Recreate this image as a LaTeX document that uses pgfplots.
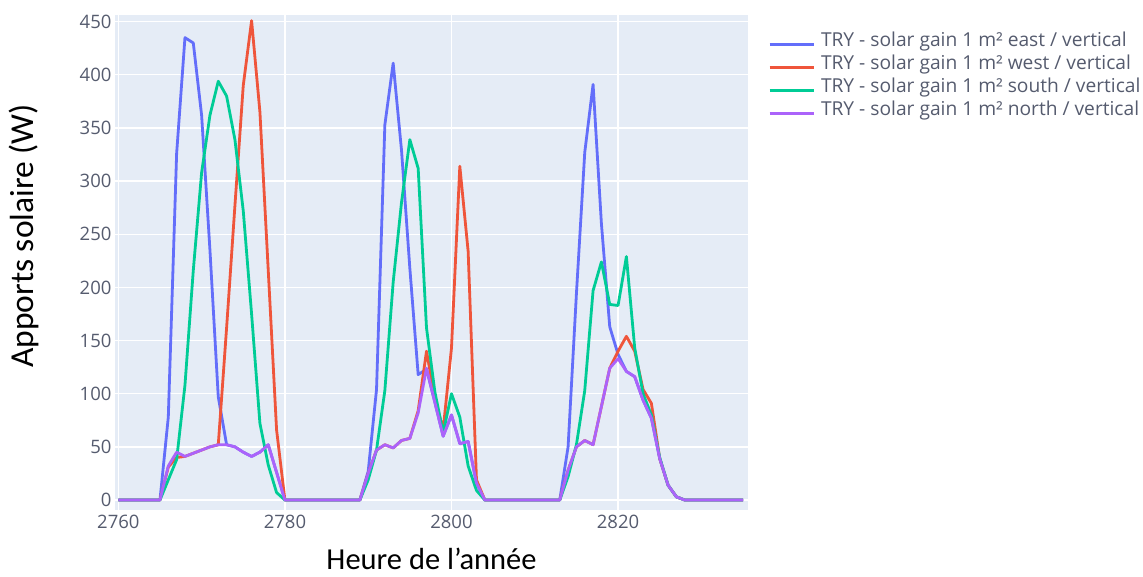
\documentclass[border=0pt]{standalone}
\usepackage{fontspec}
\setmainfont{Open Sans}
\newfontfamily\titlefont{Carlito}
\usepackage{pgfplots}
\usepackage{pgfplotstable}
\pgfplotsset{compat=1.18}

\definecolor{bgplot}{HTML}{E5ECF6}
\definecolor{ceast}{HTML}{636EFA}
\definecolor{cwest}{HTML}{EF553B}
\definecolor{csouth}{HTML}{00CC96}
\definecolor{cnorth}{HTML}{AB63FA}
\definecolor{ticktext}{HTML}{555B6E}

% solar gains, hour of year
\pgfplotstableread{
h    east west south north
2760 0    0    0    0
2761 0    0    0    0
2762 0    0    0    0
2763 0    0    0    0
2764 0    0    0    0
2765 0    0    0    0
2766 78   31   19   32
2767 326  40   38   45
2768 435  41   108  41
2769 430  44   216  44
2770 362  47   308  47
2771 235  50   362  50
2772 97   52   394  52
2773 52   162  380  52
2774 50   277  339  50
2775 45   390  272  45
2776 41   451  175  41
2777 45   365  72   45
2778 52   216  33   52
2779 26   66   7    26
2780 0    0    0    0
2781 0    0    0    0
2782 0    0    0    0
2783 0    0    0    0
2784 0    0    0    0
2785 0    0    0    0
2786 0    0    0    0
2787 0    0    0    0
2788 0    0    0    0
2789 0    0    0    0
2790 27   25   19   25
2791 104  47   47   47
2792 353  52   103  52
2793 411  49   205  49
2794 329  56   280  56
2795 218  58   339  58
2796 118  84   312  82
2797 123  140  162  124
2798 92   96   102  92
2799 60   66   63   60
2800 80   143  100  80
2801 53   314  78   53
2802 55   234  32   55
2803 16   19   9    16
2804 0    0    0    0
2805 0    0    0    0
2806 0    0    0    0
2807 0    0    0    0
2808 0    0    0    0
2809 0    0    0    0
2810 0    0    0    0
2811 0    0    0    0
2812 0    0    0    0
2813 0    0    0    0
2814 50   28   22   28
2815 194  50   52   50
2816 327  56   103  56
2817 391  52   197  52
2818 260  88   224  88
2819 163  124  184  124
2820 137  140  183  133
2821 121  154  229  121
2822 116  140  143  116
2823 94   104  100  94
2824 77   91   80   77
2825 39   39   40   39
2826 14   14   14   14
2827 3    3    3    3
2828 0    0    0    0
2829 0    0    0    0
2830 0    0    0    0
2831 0    0    0    0
2832 0    0    0    0
2833 0    0    0    0
2834 0    0    0    0
2835 0    0    0    0
}\gains

\begin{document}
\begin{tikzpicture}[x=1pt,y=1pt]
\begin{axis}[
  at={(0,0)}, anchor=south west,
  width=633pt, height=495pt, scale only axis,
  xmin=2759.6, xmax=2835.6, ymin=-9.4, ymax=456.3,
  xtick={2760,2780,2800,2820}, ytick={0,50,...,450},
  grid=major, major grid style={white, line width=1.3pt},
  axis line style={draw=none}, major tick length=0pt,
  axis background/.style={fill=bgplot},
  tick label style={font=\fontsize{18.5}{21}\selectfont, text=ticktext},
  /pgf/number format/assume math mode=true,
  /pgf/number format/set thousands separator={},
  xticklabel style={yshift=-2pt},
  xlabel={Heure de l’année},
  ylabel={Apports solaire (W)},
  every axis x label/.style={at={(axis description cs:0.5,-0.099)}, anchor=center,
    font=\titlefont\fontsize{30.5}{34}\selectfont},
  every axis y label/.style={at={(axis description cs:-0.1438,0.5535)}, anchor=center, rotate=90,
    font=\titlefont\fontsize{33.5}{37}\selectfont},
  legend style={at={(axis description cs:1.0316,0.9646)}, anchor=north west,
    draw=none, fill=none, inner sep=0pt, row sep=0pt,
    font=\fontsize{19.2}{22}\selectfont, text=ticktext,
    nodes={inner sep=0pt, text height=14pt, text depth=9pt},
    /tikz/every odd column/.append style={column sep=6pt}},
  legend cell align=left,
  legend image code/.code={\draw[#1] (0pt,0pt) -- (44pt,0pt);},
  every axis plot/.append style={line width=2.8pt, line join=round, no markers},
]
\addplot[ceast] table[x=h,y=east]{\gains};
\addplot[cwest] table[x=h,y=west]{\gains};
\addplot[csouth] table[x=h,y=south]{\gains};
\addplot[cnorth] table[x=h,y=north]{\gains};
\legend{TRY - solar gain 1 m² east / vertical,
        TRY - solar gain 1 m² west / vertical,
        TRY - solar gain 1 m² south / vertical,
        TRY - solar gain 1 m² north / vertical}
\end{axis}
\pgfresetboundingbox
\path (-115,-66) rectangle (1028,510);
\end{tikzpicture}
\end{document}
